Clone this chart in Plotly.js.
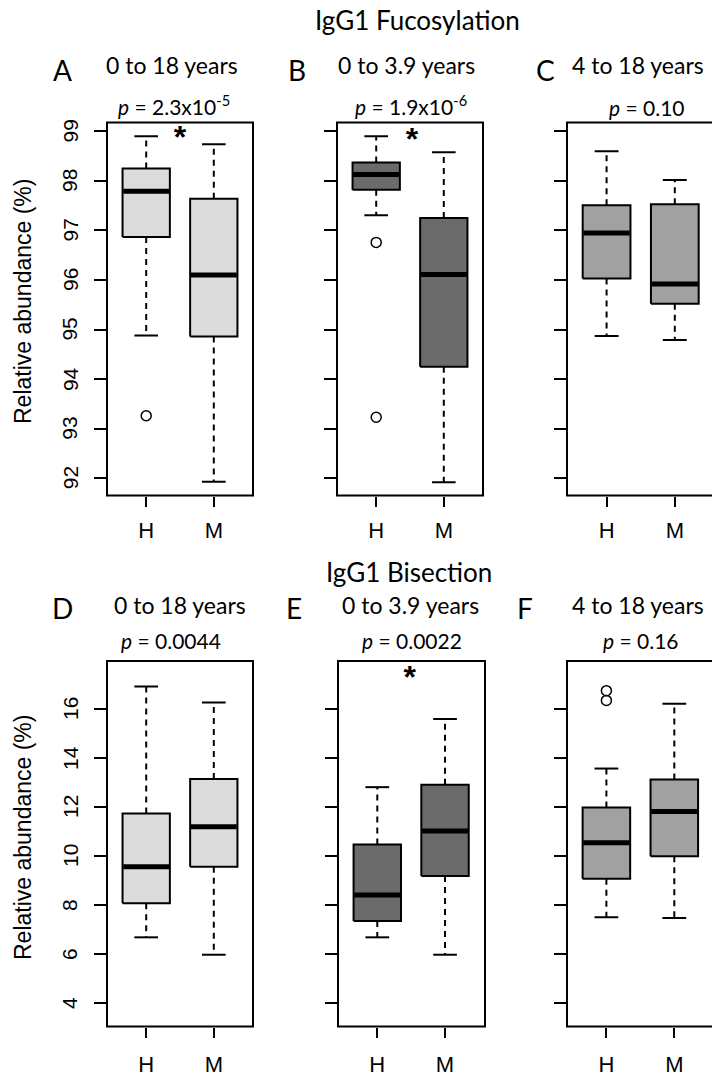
<!DOCTYPE html>
<html>
<head>
<meta charset="utf-8">
<script src="https://cdn.plot.ly/plotly-3.0.1.min.js"></script>
<style>html,body{margin:0;padding:0;background:#fff;}#chart{width:712px;height:1084px;}</style>
</head>
<body>
<div id="chart"></div>
<script>
// ---------------- data ----------------
const groups = ['H', 'M'];
const panelLetters = ['A', 'B', 'C', 'D', 'E', 'F'];
const panelAges = ['0 to 18 years', '0 to 3.9 years', '4 to 18 years', '0 to 18 years', '0 to 3.9 years', '4 to 18 years'];
const panelP = ['2.3x10<sup>-5</sup>', '1.9x10<sup>-6</sup>', '0.10', '0.0044', '0.0022', '0.16'];
const rowTitles = ['IgG1 Fucosylation', 'IgG1 Bisection'];
const yLabel = 'Relative abundance (%)';

// per panel, per group [H, M]
const whiskerLow  = [[94.88, 91.93], [97.31, 91.92], [94.87, 94.79], [6.68, 5.97], [6.68, 5.97], [7.50, 7.47]];
const quartile1   = [[96.87, 94.86], [97.82, 94.25], [96.03, 95.52], [8.07, 9.56], [7.35, 9.18], [9.07, 9.99]];
const medians     = [[97.79, 96.10], [98.13, 96.11], [96.95, 95.92], [9.56, 11.19], [8.41, 11.02], [10.54, 11.82]];
const quartile3   = [[98.25, 97.64], [98.37, 97.25], [97.51, 97.53], [11.73, 13.14], [10.47, 12.91], [11.98, 13.12]];
const whiskerHigh = [[98.90, 98.74], [98.90, 98.58], [98.60, 98.02], [16.92, 16.27], [12.81, 15.59], [13.57, 16.21]];
const outliers    = [[[93.26], []], [[96.76, 93.23], []], [[], []], [[], []], [[], []], [[16.75, 16.35], []]];

// significance asterisks: panel index, x (group position), y
const starPanel = [0, 1, 4];
const starX = [1.50, 1.53, 1.48];
const starY = [98.82, 98.78, 17.2];

const topTicks = [92, 93, 94, 95, 96, 97, 98, 99];
const bottomTicks = [4, 6, 8, 10, 12, 14, 16];

// ---------------- styling / layout ----------------
const W = 712, H = 1084;
const fills = ['#dcdcdc', '#6b6b6b', '#a1a1a1', '#dcdcdc', '#6b6b6b', '#a1a1a1'];
const xPix = [[107, 253], [337, 483], [567, 712], [107, 253], [338, 485], [567, 712]];
const xRanges = [[0.42, 2.58], [0.42, 2.58], [0.42, 2.545], [0.42, 2.58], [0.42, 2.59], [0.42, 2.555]];
const rowY = [[122.5, 495.5], [661, 1026.5]];
const yRanges = [[91.65, 99.18], [3.04, 17.96]];
const boxHalf = 0.35, capHalf = 0.175;
const yTickLabelX = 70;

const titleFont = 'Lato, "Open Sans", sans-serif';
const axisFont = '"Liberation Sans", Arial, sans-serif';

const traces = [];
const layout = {
  width: W, height: H,
  margin: {l: 0, r: 0, t: 0, b: 0},
  paper_bgcolor: '#ffffff', plot_bgcolor: 'rgba(0,0,0,0)',
  showlegend: false,
  annotations: [], shapes: []
};

function px2x(p) { return p / W; }
function px2y(p) { return 1 - p / H; }

function ann(text, px, py, size, family, extra) {
  layout.annotations.push(Object.assign({
    text: text, xref: 'paper', yref: 'paper', x: px2x(px), y: px2y(py),
    xanchor: 'center', yanchor: 'middle', showarrow: false,
    font: {family: family, size: size, color: '#000'}
  }, extra || {}));
}

for (let i = 0; i < 6; i++) {
  const row = i < 3 ? 0 : 1;
  const xa = i === 0 ? 'x' : 'x' + (i + 1);
  const ya = i === 0 ? 'y' : 'y' + (i + 1);
  const xKey = i === 0 ? 'xaxis' : 'xaxis' + (i + 1);
  const yKey = i === 0 ? 'yaxis' : 'yaxis' + (i + 1);
  const ticksHere = row === 0 ? topTicks : bottomTicks;

  layout[xKey] = {
    domain: [px2x(xPix[i][0]), px2x(xPix[i][1])],
    range: xRanges[i], anchor: ya,
    tickmode: 'array', tickvals: [1, 2], ticktext: groups,
    ticks: 'outside', ticklen: 10, tickwidth: 2, tickcolor: '#000',
    showline: false, showgrid: false, zeroline: false,
    ticklabelstandoff: row === 0 ? 5 : 8,
    tickfont: {family: axisFont, size: 22, color: '#000'},
    fixedrange: true
  };
  layout[yKey] = {
    domain: [px2y(rowY[row][1]), px2y(rowY[row][0])],
    range: yRanges[row], anchor: xa,
    tickmode: 'array', tickvals: ticksHere,
    ticks: 'outside', ticklen: 12, tickwidth: 2, tickcolor: '#000',
    showticklabels: false,
    showline: false, showgrid: false, zeroline: false,
    fixedrange: true
  };

  // y tick labels (rotated, R style) for the leftmost panels
  if (i === 0 || i === 3) {
    ticksHere.forEach(function (t) {
      layout.annotations.push({
        text: String(t), xref: 'paper', x: px2x(yTickLabelX), yref: ya, y: t,
        xanchor: 'center', yanchor: 'middle', textangle: -90, showarrow: false,
        font: {family: axisFont, size: 21, color: '#000'}
      });
    });
  }

  layout.shapes.push({
    type: 'rect', xref: xa + ' domain', yref: ya + ' domain',
    x0: 0, x1: (i === 2 || i === 5) ? 1.04 : 1, y0: 0, y1: 1,
    line: {color: '#000', width: 2}, fillcolor: 'rgba(0,0,0,0)', layer: 'above'
  });

  for (let g = 0; g < 2; g++) {
    const x = g + 1;
    const lo = whiskerLow[i][g], q1 = quartile1[i][g], md = medians[i][g], q3 = quartile3[i][g], hi = whiskerHigh[i][g];
    traces.push({
      type: 'scatter', mode: 'lines', xaxis: xa, yaxis: ya, hoverinfo: 'skip',
      x: [x, x, null, x, x], y: [q3, hi, null, q1, lo],
      line: {color: '#000', width: 2, dash: '6px,5px'}
    });
    traces.push({
      type: 'scatter', mode: 'lines', xaxis: xa, yaxis: ya, hoverinfo: 'skip',
      x: [x - capHalf, x + capHalf, null, x - capHalf, x + capHalf], y: [hi, hi, null, lo, lo],
      line: {color: '#000', width: 2}
    });
    traces.push({
      type: 'scatter', mode: 'lines', xaxis: xa, yaxis: ya, hoverinfo: 'skip',
      x: [x - boxHalf, x + boxHalf, x + boxHalf, x - boxHalf, x - boxHalf],
      y: [q1, q1, q3, q3, q1],
      fill: 'toself', fillcolor: fills[i],
      line: {color: '#000', width: 2}
    });
    traces.push({
      type: 'scatter', mode: 'lines', xaxis: xa, yaxis: ya, hoverinfo: 'skip',
      x: [x - boxHalf + 0.01, x + boxHalf - 0.01], y: [md, md],
      line: {color: '#000', width: 5}
    });
    if (outliers[i][g].length) {
      traces.push({
        type: 'scatter', mode: 'markers', xaxis: xa, yaxis: ya, hoverinfo: 'skip',
        x: outliers[i][g].map(() => x), y: outliers[i][g],
        marker: {symbol: 'circle-open', size: 10, color: '#000', line: {width: 1.5, color: '#000'}}
      });
    }
  }
}

for (let k = 0; k < starPanel.length; k++) {
  const i = starPanel[k];
  traces.push({
    type: 'scatter', mode: 'text', hoverinfo: 'skip',
    xaxis: i === 0 ? 'x' : 'x' + (i + 1), yaxis: i === 0 ? 'y' : 'y' + (i + 1),
    x: [starX[k]], y: [starY[k]], text: ['<b>*</b>'],
    textposition: 'middle center',
    textfont: {family: axisFont, size: 32, color: '#000'},
    cliponaxis: false
  });
}

ann(rowTitles[0], 417, 20, 26, titleFont);
ann(rowTitles[1], 409, 572, 26, titleFont);

const letterPos = [[62, 70], [297, 70], [545, 70], [62, 608], [294, 608], [525, 608]];
const agePos = [[171.5, 65], [406, 65], [638, 65], [180, 605], [410, 605], [638, 605]];
const pPos = [[174, 105], [411, 105], [647, 107], [171, 640], [412, 640], [641, 640]];
for (let i = 0; i < 6; i++) {
  ann(panelLetters[i], letterPos[i][0], letterPos[i][1], 28, titleFont);
  ann(panelAges[i], agePos[i][0], agePos[i][1], 23, titleFont);
  ann('<i>p</i> = ' + panelP[i], pPos[i][0], pPos[i][1], 21, titleFont);
}
ann(yLabel, 23, 302, 23, axisFont, {textangle: -90});
ann(yLabel, 23, 838, 23, axisFont, {textangle: -90});

Plotly.newPlot('chart', traces, layout, {staticPlot: true, displayModeBar: false});
</script>
</body>
</html>
